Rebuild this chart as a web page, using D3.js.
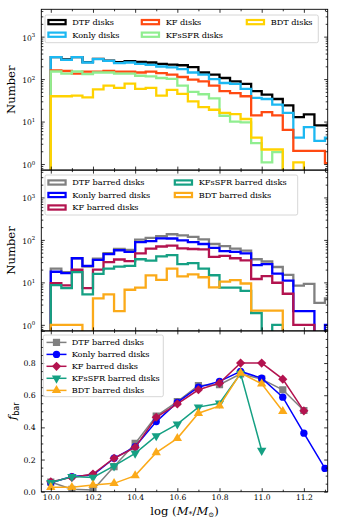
<!DOCTYPE html>
<html>
<head>
<meta charset="utf-8">
<script src="https://cdn.jsdelivr.net/npm/d3@7"></script>
<style>
body { margin: 0; background: #fff; }
svg { display: block; font-family: 'DejaVu Serif', serif; }
</style>
</head>
<body>
<svg id="chart"></svg>
<script>
// bin edges in log stellar mass, 0.05 dex bins
let massEdges = [10.00, 10.05, 10.10, 10.15, 10.20, 10.25, 10.30, 10.35, 10.40, 10.45,
    10.50, 10.55, 10.60, 10.65, 10.70, 10.75, 10.80, 10.85, 10.90, 10.95,
    11.00, 11.05, 11.10, 11.15, 11.20, 11.25, 11.30, 11.35]

// top panel: all disks (counts per bin)
let dtfDisks = [330, 290, 330, 250, 298, 272, 250, 265, 255, 246, 229, 220, 212, 192, 143, 127, 106, 88, 77, 52, 43, 34, 24, 12.7, 14.7, 8.1, 8.1]
let konlyDisks = [328, 284, 328, 246, 295, 269, 238, 246, 229, 217, 198, 188, 172, 143, 127, 100, 81, 77, 59, 36, 34, 25, 16, 4.2, 7.4, 3.5, 4.2]
let kfDisks = [160, 155, 134, 150, 150, 155, 150, 150, 143, 150, 139, 127, 112, 97, 88, 70, 52, 47, 39.5, 14, 16.7, 14, 6.4, 2.05, 2.05, 2.05, 1.05]
let kfssfrDisks = [151, 134, 151, 131, 143, 143, 134, 134, 120, 116, 106, 101, 70, 50, 44, 35, 13.7, 10, 9.6, 3.1, 1.1, 1.9, 0, 0, 0, 0, 0]
let bdtDisks = [39.5, 39.5, 41, 37, 57, 70, 62, 78, 59, 62, 41, 56, 45, 30, 22, 19, 16, 15, 11.5, 4.2, 2.2, 2.2, 0, 1.1, 0, 0, 0]

// middle panel: barred disks
let dtfBarred = [21, 17.5, 37, 23.5, 36, 49, 61, 58, 101, 112, 122, 136, 128, 118, 103, 80, 71, 62, 56, 35, 31, 23, 15, 8.4, 9.2, 3.3, 4.2]
let konlyBarred = [17.8, 16.5, 37, 24.5, 34, 46, 57, 52, 89, 94, 109, 108, 97, 89, 80, 65, 54.5, 52, 48, 25.5, 27, 16, 11, 2.1, 2.1, 0, 1.0]
let kfBarred = [9.6, 8.5, 19.8, 7.3, 20, 30, 34.6, 31.8, 48, 62, 70, 73, 63, 61, 60, 40, 42, 37, 33, 12, 14, 9.8, 5.4, 1.0, 1.0, 0, 0]
let kfssfrBarred = [8.6, 7.3, 17.5, 5.2, 15.8, 21, 23.5, 24.5, 35, 32.5, 41, 44, 27, 28.5, 21, 14.7, 7.5, 7.5, 6.3, 1.9, 0, 1.0, 0, 0, 0, 0, 0]
let bdtBarred = [1.0, 1.0, 1.0, 0, 4.2, 5.2, 2.1, 6.7, 7.5, 14.6, 11.5, 21, 13.8, 15.4, 13.2, 7.6, 10.4, 11.3, 9.4, 2.15, 2.15, 2.15, 0, 0, 0, 0, 0]

// bottom panel: bar fraction vs mass
let fracMass = [10.0, 10.1, 10.2, 10.3, 10.4, 10.5, 10.6, 10.7, 10.8, 10.9, 11.0, 11.1, 11.2, 11.3]
let fracDTF = [0.06, 0.015, 0.01, 0.156, 0.30, 0.47, 0.56, 0.66, 0.665, 0.733, 0.70, 0.634, 0.505]
let fracKonly = [0.056, 0.094, 0.104, 0.208, 0.28, 0.436, 0.555, 0.65, 0.686, 0.748, 0.706, 0.588, 0.364, 0.145]
let fracKF = [0.062, 0.089, 0.11, 0.208, 0.276, 0.463, 0.546, 0.634, 0.675, 0.80, 0.80, 0.70, 0.503]
let fracKFsSFR = [0.056, 0.094, 0.089, 0.16, 0.239, 0.347, 0.42, 0.526, 0.55, 0.735, 0.256]
let fracBDT = [0.027, 0.027, 0.042, 0.052, 0.10, 0.243, 0.332, 0.488, 0.534, 0.738, 0.671, 0.50]

let allNames = ['DTF disks', 'Konly disks', 'KF disks', 'KFsSFR disks', 'BDT disks']
let barredNames = ['DTF barred disks', 'Konly barred disks', 'KF barred disks', 'KFsSFR barred disks', 'BDT barred disks']

let logTicks = [1, 10, 100, 1000]
let fracTicks = [0.0, 0.2, 0.4, 0.6, 0.8]
let massTicks = [10.0, 10.2, 10.4, 10.6, 10.8, 11.0, 11.2]

const allColors = ['#000000', '#1cb8f2', '#ff4a12', '#90ee90', '#ffd200']
const barredColors = ['#808080', '#0000ff', '#b3134f', '#15a083', '#fbaa19']

const width = 339
const height = 523
const padLeft = 41.3
const padRight = 327.7
const padTop = 9.3
const panelH = 160.8

let svg = d3.select('#chart').attr('width', width).attr('height', height)

let xScale = d3.scaleLinear().domain([9.955, 11.313]).range([padLeft, padRight])

const panelY = i => [padTop + i * panelH, padTop + (i + 1) * panelH]

// inward ticks on every side of a panel
const addTicks = (g, axisFn, scale, values, size, shift) => {
    g.append('g')
        .attr('transform', shift)
        .call(axisFn(scale).tickValues(values).tickSize(-size).tickFormat(''))
        .call(a => a.select('.domain').remove())
        .call(a => a.selectAll('line').attr('stroke', '#000').attr('stroke-width', 0.8))
}

const xTicks = (g, y0, y1) => {
    let minor = d3.range(10.0, 11.31, 0.1).map(d => +d.toFixed(2)).filter(d => massTicks.indexOf(d) < 0)
    addTicks(g, d3.axisBottom, xScale, massTicks, 3.5, `translate(0,${y1})`)
    addTicks(g, d3.axisBottom, xScale, minor, 2, `translate(0,${y1})`)
    addTicks(g, d3.axisTop, xScale, massTicks, 3.5, `translate(0,${y0})`)
    addTicks(g, d3.axisTop, xScale, minor, 2, `translate(0,${y0})`)
}

const frame = (g, y0, y1) => {
    g.append('rect')
        .attr('x', padLeft).attr('y', y0)
        .attr('width', padRight - padLeft).attr('height', y1 - y0)
        .attr('fill', 'none').attr('stroke', '#000').attr('stroke-width', 0.9)
}

const clipFor = (id, y0, y1) => {
    svg.append('clipPath').attr('id', id)
        .append('rect').attr('x', padLeft).attr('y', y0)
        .attr('width', padRight - padLeft).attr('height', y1 - y0)
}

const yLabel = (text, cy) => {
    svg.append('text')
        .attr('transform', `translate(15,${cy}) rotate(-90)`)
        .attr('text-anchor', 'middle')
        .attr('font-size', 11.6)
        .text(text)
}

const legendBox = (x, y, w, h) => {
    svg.append('rect')
        .attr('x', x).attr('y', y).attr('width', w).attr('height', h)
        .attr('rx', 1.8)
        .attr('fill', 'white').attr('fill-opacity', 0.8)
        .attr('stroke', '#cccccc').attr('stroke-width', 0.8)
}

const drawHistPanel = (i, series, names, colors, legendCols, box) => {
    let [y0, y1] = panelY(i)
    let yScale = d3.scaleLog().domain([0.72, 4400]).range([y1, y0])
    let g = svg.append('g')
    clipFor('clip' + i, y0, y1)

    let line = d3.line().x(d => xScale(d[0])).y(d => yScale(d[1]))
    series.forEach((vals, k) => {
        let pts = [[massEdges[0], 0.1]]
        vals.forEach((v, j) => {
            let vv = v > 0 ? v : 0.1
            pts.push([massEdges[j], vv])
            pts.push([massEdges[j + 1], vv])
        })
        pts.push([massEdges[massEdges.length - 1], 0.1])
        g.append('path')
            .attr('d', line(pts))
            .attr('clip-path', `url(#clip${i})`)
            .attr('fill', 'none')
            .attr('stroke', colors[k])
            .attr('stroke-width', 2.3)
            .attr('stroke-linejoin', 'miter')
    })

    // y ticks, log scale
    let minor = []
    for (let e = -1; e <= 3; e++) {
        for (let m = 2; m <= 9; m++) {
            let v = m * Math.pow(10, e)
            if (v > 0.72 && v < 4400) minor.push(v)
        }
    }
    addTicks(g, d3.axisLeft, yScale, logTicks, 3.5, `translate(${padLeft},0)`)
    addTicks(g, d3.axisLeft, yScale, minor, 2, `translate(${padLeft},0)`)
    addTicks(g, d3.axisRight, yScale, logTicks, 3.5, `translate(${padRight},0)`)
    addTicks(g, d3.axisRight, yScale, minor, 2, `translate(${padRight},0)`)
    xTicks(g, y0, y1)

    let lab = g.append('g')
        .attr('transform', `translate(${padLeft},0)`)
        .call(d3.axisLeft(yScale).tickValues(logTicks).tickSize(0).tickPadding(6))
    lab.select('.domain').remove()
    lab.selectAll('.tick text')
        .attr('font-family', "'DejaVu Serif', serif")
        .attr('font-size', 7.6)
        .attr('fill', '#000')
        .attr('dy', '0.45em')
        .text(null)
        .each(function (d) {
            let t = d3.select(this)
            t.append('tspan').text('10')
            t.append('tspan').attr('dy', -3.4).attr('font-size', 5.4).text(Math.round(Math.log10(d)))
        })

    frame(g, y0, y1)

    // legend
    legendBox(box.x, box.y, box.w, box.h)
    series.forEach((vals, k) => {
        let c = legendCols[k]
        let hx = box.cols[c[0]]
        let cy = box.rows[c[1]]
        svg.append('rect')
            .attr('x', hx + 1.1).attr('y', cy - 2.1)
            .attr('width', 17.2).attr('height', 4.2)
            .attr('fill', 'none').attr('stroke', colors[k]).attr('stroke-width', 2.2)
        svg.append('text')
            .attr('x', hx + 25).attr('y', cy + 2.9)
            .attr('font-size', 8.2)
            .text(names[k])
    })

    yLabel('Number', (y0 + y1) / 2)
}

const drawFracPanel = () => {
    let [y0, y1] = panelY(2)
    let yScale = d3.scaleLinear().domain([0, 1.0]).range([y1, y0])
    let g = svg.append('g')
    clipFor('clip2', y0, y1)

    let fracSeries = [fracDTF, fracKonly, fracKF, fracKFsSFR, fracBDT]
    let shapes = [
        { type: d3.symbolSquare, size: 52, rot: 0 },
        { type: d3.symbolCircle, size: 42, rot: 0 },
        { type: d3.symbolSquare, size: 42, rot: 45 },
        { type: d3.symbolTriangle, size: 38, rot: 180 },
        { type: d3.symbolTriangle, size: 38, rot: 0 }
    ]
    let line = d3.line().x(d => xScale(d[0])).y(d => yScale(d[1]))

    fracSeries.forEach((vals, k) => {
        let pts = vals.map((v, j) => [fracMass[j], v])
        let sg = g.append('g').attr('clip-path', 'url(#clip2)')
        sg.append('path')
            .attr('d', line(pts))
            .attr('fill', 'none')
            .attr('stroke', barredColors[k])
            .attr('stroke-width', 1.5)
        sg.selectAll('path.mk')
            .data(pts)
            .enter()
            .append('path')
            .attr('class', 'mk')
            .attr('d', d3.symbol().type(shapes[k].type).size(shapes[k].size))
            .attr('transform', d => `translate(${xScale(d[0])},${yScale(d[1])}) rotate(${shapes[k].rot})`)
            .attr('fill', barredColors[k])
    })

    let minorY = d3.range(0.05, 1.0, 0.05).map(d => +d.toFixed(2)).filter(d => Math.abs(d * 5 - Math.round(d * 5)) > 1e-6)
    let majorY = [0, 0.2, 0.4, 0.6, 0.8, 1.0]
    addTicks(g, d3.axisLeft, yScale, majorY, 3.5, `translate(${padLeft},0)`)
    addTicks(g, d3.axisLeft, yScale, minorY, 2, `translate(${padLeft},0)`)
    addTicks(g, d3.axisRight, yScale, majorY, 3.5, `translate(${padRight},0)`)
    addTicks(g, d3.axisRight, yScale, minorY, 2, `translate(${padRight},0)`)
    xTicks(g, y0, y1)

    let ly = g.append('g')
        .attr('transform', `translate(${padLeft},0)`)
        .call(d3.axisLeft(yScale).tickValues(fracTicks).tickSize(0).tickPadding(5.5).tickFormat(d3.format('.1f')))
    ly.select('.domain').remove()
    ly.selectAll('text').attr('font-family', "'DejaVu Serif', serif").attr('font-size', 7.8).attr('fill', '#000')

    let lx = g.append('g')
        .attr('transform', `translate(0,${y1})`)
        .call(d3.axisBottom(xScale).tickValues(massTicks).tickSize(0).tickPadding(3.4).tickFormat(d3.format('.1f')))
    lx.select('.domain').remove()
    lx.selectAll('text').attr('font-family', "'DejaVu Serif', serif").attr('font-size', 7.6).attr('fill', '#000')

    frame(g, y0, y1)

    // legend
    let box = { x: 43.3, y: 335, w: 120, h: 61.7 }
    let rows = [342.4, 354.4, 366.3, 378.3, 390.4]
    legendBox(box.x, box.y, box.w, box.h)
    fracSeries.forEach((vals, k) => {
        svg.append('line')
            .attr('x1', 46.5).attr('x2', 66.5)
            .attr('y1', rows[k]).attr('y2', rows[k])
            .attr('stroke', barredColors[k]).attr('stroke-width', 1.5)
        svg.append('path')
            .attr('d', d3.symbol().type(shapes[k].type).size(shapes[k].size)())
            .attr('transform', `translate(56.5,${rows[k]}) rotate(${shapes[k].rot})`)
            .attr('fill', barredColors[k])
        svg.append('text')
            .attr('x', 71.7).attr('y', rows[k] + 2.9)
            .attr('font-size', 8.2)
            .text(barredNames[k])
    })

    // axis labels
    let fl = svg.append('text')
        .attr('transform', `translate(16,${(y0 + y1) / 2}) rotate(-90)`)
        .attr('text-anchor', 'middle')
        .attr('font-size', 11.6)
    fl.append('tspan').attr('font-style', 'italic').text('f')
    fl.append('tspan').attr('font-family', "'DejaVu Sans', sans-serif").attr('font-size', 8).attr('dy', 2.5).text('bar')

    let xl = svg.append('text')
        .attr('x', (padLeft + padRight) / 2).attr('y', 515)
        .attr('text-anchor', 'middle')
        .attr('font-size', 11.6)
    xl.append('tspan').text('log (')
    xl.append('tspan').attr('font-style', 'italic').text('M')
    xl.append('tspan').attr('font-size', 8).attr('dy', 2).text('*')
    xl.append('tspan').attr('dy', -2).text('/')
    xl.append('tspan').attr('font-style', 'italic').text('M')
    xl.append('tspan').attr('font-size', 7).attr('dy', 2).text('⊙')
    xl.append('tspan').attr('dy', -2).text(')')
}

drawHistPanel(0,
    [dtfDisks, konlyDisks, kfDisks, kfssfrDisks, bdtDisks],
    allNames, allColors,
    [[0, 0], [0, 1], [1, 0], [1, 1], [2, 0]],
    { x: 45, y: 15, w: 273.3, h: 27.7, cols: [47.3, 140.7, 245.7], rows: [22.1, 34.7] })

drawHistPanel(1,
    [dtfBarred, konlyBarred, kfBarred, kfssfrBarred, bdtBarred],
    barredNames, barredColors,
    [[0, 0], [0, 1], [0, 2], [1, 0], [1, 1]],
    { x: 45, y: 175, w: 252.7, h: 40, cols: [47.3, 173.7], rows: [182.5, 195, 207.5] })

drawFracPanel()
</script>
</body>
</html>
